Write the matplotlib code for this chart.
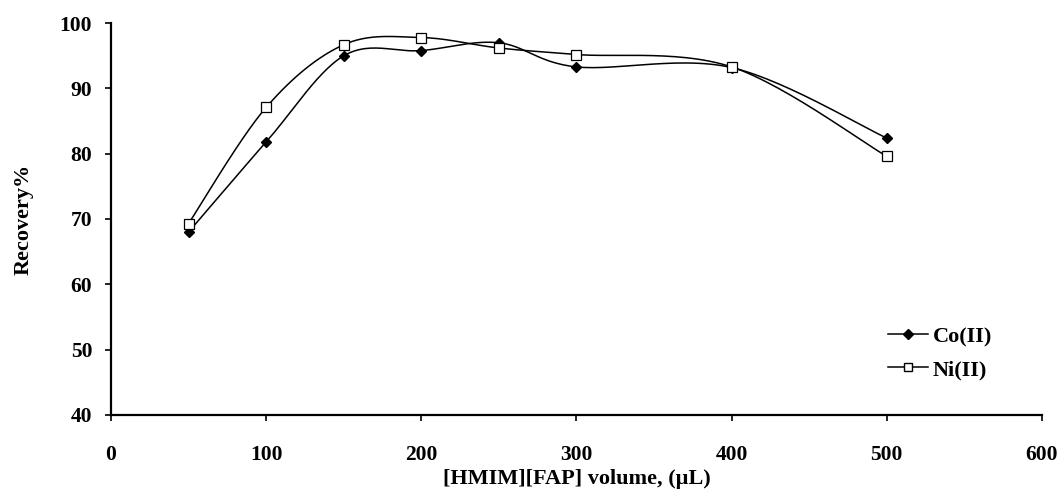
import numpy as np
from matplotlib import pyplot as plt
from matplotlib.lines import Line2D

volume = [50, 100, 150, 200, 250, 300, 400, 500]
co_recovery = [68.0, 81.8, 95.0, 95.8, 97.0, 93.3, 93.2, 82.4]
ni_recovery = [69.3, 87.1, 96.7, 97.8, 96.2, 95.2, 93.3, 79.6]

x_ticks = [0, 100, 200, 300, 400, 500, 600]
y_ticks = [40, 50, 60, 70, 80, 90, 100]


def smooth_curve(x, y, n=30):
    # Excel-style smoothed line: cubic Bezier through points, Catmull-Rom tangents
    pts = np.column_stack([x, y]).astype(float)
    out = [pts[0]]
    t = np.linspace(0, 1, n)[1:, None]
    for i in range(len(pts) - 1):
        p0 = pts[max(i - 1, 0)]
        p1 = pts[i]
        p2 = pts[i + 1]
        p3 = pts[min(i + 2, len(pts) - 1)]
        c1 = p1 + (p2 - p0) / 6
        c2 = p2 - (p3 - p1) / 6
        seg = ((1 - t) ** 3) * p1 + 3 * ((1 - t) ** 2) * t * c1 + 3 * (1 - t) * t ** 2 * c2 + t ** 3 * p2
        out.extend(seg)
    out = np.array(out)
    return out[:, 0], out[:, 1]


plt.rcParams['font.family'] = ['Liberation Serif', 'DejaVu Serif']
plt.rcParams['font.weight'] = 'bold'

fig = plt.figure(figsize=(10.61, 5.04), dpi=100)
ax = fig.add_axes([0.1046, 0.177, 0.8774, 0.777])

sx, sy = smooth_curve(volume, co_recovery)
ax.plot(sx, sy, color='black', linewidth=1.1)
ax.plot(volume, co_recovery, linestyle='none', marker='D', markersize=5.5,
        markerfacecolor='black', markeredgecolor='black')

sx, sy = smooth_curve(volume, ni_recovery)
ax.plot(sx, sy, color='black', linewidth=1.1)
ax.plot(volume, ni_recovery, linestyle='none', marker='s', markersize=6.5,
        markerfacecolor='white', markeredgecolor='black', markeredgewidth=0.9)

ax.set_xlim(0, 600)
ax.set_ylim(40, 100)
ax.set_xticks(x_ticks)
ax.set_yticks(y_ticks)
ax.tick_params(direction='out', length=4.5, width=1.2, labelsize=15.5)
ax.tick_params(axis='x', pad=17)
ax.tick_params(axis='y', pad=9)
for side in ['top', 'right']:
    ax.spines[side].set_visible(False)
for side in ['left', 'bottom']:
    ax.spines[side].set_linewidth(1.6)
for lbl in ax.get_xticklabels() + ax.get_yticklabels():
    lbl.set_fontweight('bold')

ax.set_xlabel('[HMIM][FAP] volume, (\u00b5L)', fontsize=16, fontweight='bold', labelpad=3)
ax.set_ylabel('Recovery%', fontsize=16, fontweight='bold', labelpad=19)

handles = [
    Line2D([], [], color='black', linewidth=1.1, marker='D', markersize=5,
           markerfacecolor='black'),
    Line2D([], [], color='black', linewidth=1.1, marker='s', markersize=6,
           markerfacecolor='white'),
]
ax.legend(handles, ['Co(II)', 'Ni(II)'], loc='upper left', bbox_to_anchor=(0.835, 0.225),
          frameon=False, prop={'size': 16, 'weight': 'bold'}, handlelength=1.8,
          handletextpad=0.2, labelspacing=0.55, borderpad=0, borderaxespad=0)

fig.savefig('out.png', dpi=100)
